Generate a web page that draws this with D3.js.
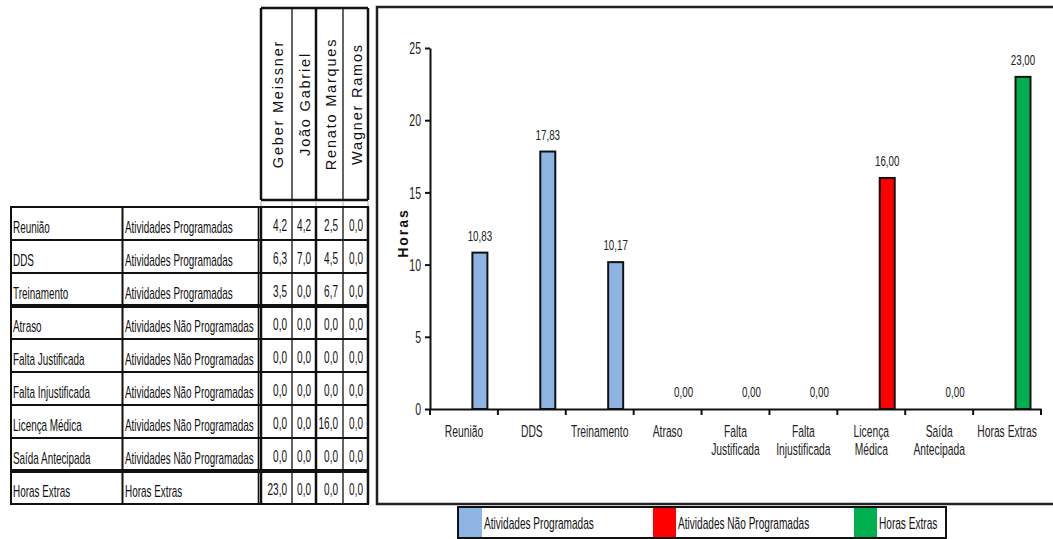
<!DOCTYPE html>
<html><head><meta charset="utf-8">
<script src="https://cdn.jsdelivr.net/npm/d3@7"></script>
<style>
body{margin:0;background:#fff;}
svg{display:block;font-family:"Liberation Sans",Arial,sans-serif;}
</style></head>
<body><svg id="c" width="1053" height="539"></svg>
<script>
// ---------- DATA ----------
const categories = ["Reunião","DDS","Treinamento","Atraso","Falta Justificada","Falta Injustificada","Licença Médica","Saída Antecipada","Horas Extras"];
const categoryLines = [["Reunião"],["DDS"],["Treinamento"],["Atraso"],["Falta","Justificada"],["Falta","Injustificada"],["Licença","Médica"],["Saída","Antecipada"],["Horas Extras"]];
const groups = ["Atividades Programadas","Atividades Programadas","Atividades Programadas","Atividades Não Programadas","Atividades Não Programadas","Atividades Não Programadas","Atividades Não Programadas","Atividades Não Programadas","Horas Extras"];
const people = ["Geber Meissner","João Gabriel","Renato Marques","Wagner Ramos"];
const geber  = [4.2, 6.3, 3.5, 0, 0, 0, 0, 0, 23.0];
const joao   = [4.2, 7.0, 0.0, 0, 0, 0, 0, 0, 0];
const renato = [2.5, 4.5, 6.7, 0, 0, 0, 16.0, 0, 0];
const wagner = [0, 0, 0, 0, 0, 0, 0, 0, 0];
const totals = [10.83, 17.83, 10.17, 0, 0, 0, 16.00, 0, 23.00];
const yTicks = [0, 5, 10, 15, 20, 25];
const legendNames = ["Atividades Programadas","Atividades Não Programadas","Horas Extras"];
const legendColors = ["#8DB4E2","#FF0000","#00B050"];

// ---------- HELPERS ----------
const svg = d3.select("#c");
// detect a narrow face
function measure(fam) {
  const t = svg.append("text").attr("font-family", fam).attr("font-size", 100).text("Atividades Programadas");
  const w = t.node().getComputedTextLength(); t.remove(); return w;
}
const wReg = measure("Liberation Sans");
const wNar = measure("Liberation Sans Narrow, Liberation Sans");
const narrow = wNar < wReg * 0.9;
const FAM = narrow ? "Liberation Sans Narrow" : "Liberation Sans";
const NF = narrow ? wNar / wReg : 1;
// W: px per Arial-em in width; size: font size (height)
const sxFor = (W, size) => W / (size * NF);

const comma = f => v => f(v).replace(".", ",");
function txt(parent, x, y, s, o = {}) {
  const size = o.size ?? 16;
  return parent.append("text")
    .attr("transform", `translate(${x},${y}) scale(${sxFor(o.W ?? 10, size)},1)`)
    .attr("font-family", FAM)
    .attr("font-size", size)
    .attr("text-anchor", o.anchor ?? "start")
    .attr("fill", o.fill ?? "#111")
    .text(s);
}
const colorOf = d3.scaleOrdinal().domain(legendNames).range(legendColors);

// ---------- TABLE ----------
const T = svg.append("g");
const rowTop = d3.scaleLinear().domain([0, 1]).range([207, 240]);
const colX = [261, 292, 316, 343, 368];
const colThick = [2.5, 1.3, 2.5, 1.3, 2.5];
const nRows = categories.length;

// header box
T.append("line").attr("x1", 261).attr("x2", 368).attr("y1", 8).attr("y2", 8).attr("stroke", "#111").attr("stroke-width", 2.5);
T.append("line").attr("x1", 261).attr("x2", 368).attr("y1", 200).attr("y2", 200).attr("stroke", "#111").attr("stroke-width", 2.5);
colX.forEach((x, i) => {
  T.append("line").attr("x1", x).attr("x2", x).attr("y1", 8).attr("y2", 200).attr("stroke", "#111").attr("stroke-width", colThick[i]);
  T.append("line").attr("x1", x).attr("x2", x).attr("y1", 201).attr("y2", 207).attr("stroke", "#aab").attr("stroke-width", 1);
});
people.forEach((p, i) => {
  const cx = (colX[i] + colX[i + 1]) / 2;
  T.append("text").attr("transform", `translate(${cx + 1},104) rotate(-90)`)
    .attr("text-anchor", "middle").attr("dominant-baseline", "central")
    .attr("font-size", 14.5).attr("letter-spacing", 1.8).attr("fill", "#111").text(p);
});

// rows
const series = [geber, joao, renato, wagner];
for (let r = 0; r < nRows; r++) {
  const y0 = rowTop(r);
  txt(T, 13, y0 + 26, categories[r], { W: 9.9, size: 16 });
  txt(T, 125, y0 + 26, groups[r], { W: 9.9, size: 16 });
  series.forEach((s, i) => {
    txt(T, colX[i + 1] - 5, y0 + 24, comma(d3.format(".1f"))(s[r]), { anchor: "end", W: 10, size: 16 });
  });
}
for (let r = 0; r <= nRows; r++) {
  const y = rowTop(r);
  const heavy = (r === 3 || r === 8);
  T.append("line").attr("x1", 10).attr("x2", 369).attr("y1", y).attr("y2", y)
    .attr("stroke", "#111").attr("stroke-width", heavy ? 4 : 2);
}
[[11, 2], [122.5, 2], [258.5, 1.6]].forEach(([x, w]) =>
  T.append("line").attr("x1", x).attr("x2", x).attr("y1", rowTop(0)).attr("y2", rowTop(nRows)).attr("stroke", "#111").attr("stroke-width", w));
colX.forEach((x, i) =>
  T.append("line").attr("x1", x).attr("x2", x).attr("y1", rowTop(0)).attr("y2", rowTop(nRows)).attr("stroke", "#111").attr("stroke-width", colThick[i]));

// ---------- CHART ----------
const C = svg.append("g");
C.append("rect").attr("x", 377).attr("y", 7).attr("width", 700).attr("height", 497)
  .attr("fill", "none").attr("stroke", "#222").attr("stroke-width", 2.5);

const x = d3.scaleBand().domain(categories).range([430, 1041]).padding(0);
const y = d3.scaleLinear().domain([0, 25]).range([409, 48]);
const barW = 15;
const barCx = c => x(c) + x.bandwidth() * 0.735;

// y axis
const tickSize = 16;
const tickSX = sxFor(10.5, tickSize);
const ya = C.append("g").attr("transform", "translate(430,0)")
  .call(d3.axisLeft(y).tickValues(yTicks).tickSize(5).tickSizeOuter(0).tickFormat(d3.format("d")));
ya.select(".domain").attr("stroke", "#111").attr("stroke-width", 2);
ya.selectAll(".tick line").attr("stroke", "#111").attr("stroke-width", 2);
ya.selectAll(".tick text").attr("font-size", tickSize).attr("fill", "#222")
  .attr("font-family", FAM)
  .attr("x", -9 / tickSX).attr("dy", "0.36em").attr("transform", `scale(${tickSX},1)`);

// y title
C.append("text").attr("transform", "translate(403,233) rotate(-90)")
  .attr("text-anchor", "middle").attr("dominant-baseline", "central")
  .attr("font-size", 14).attr("font-weight", "bold").attr("letter-spacing", 2).attr("fill", "#111").text("Horas");

// bars
C.selectAll("rect.bar").data(categories).join("rect").attr("class", "bar")
  .attr("x", c => barCx(c) - barW / 2)
  .attr("width", barW)
  .attr("y", (c, i) => y(totals[i]))
  .attr("height", (c, i) => y(0) - y(totals[i]))
  .attr("fill", (c, i) => colorOf(groups[i]))
  .attr("stroke", "#111").attr("stroke-width", 2);

// x axis
const xa = C.append("g").attr("transform", "translate(0,409)")
  .call(d3.axisBottom(x).tickSize(0).tickSizeOuter(0).tickFormat(""));
xa.select(".domain").attr("stroke", "#111").attr("stroke-width", 2);
const bounds = categories.map(c => x(c)).concat([x(categories[categories.length - 1]) + x.bandwidth()]);
bounds.forEach(b => C.append("line").attr("x1", b).attr("x2", b).attr("y1", 409).attr("y2", 415).attr("stroke", "#111").attr("stroke-width", 2));

// category labels
categoryLines.forEach((lines, i) => {
  const cx = x(categories[i]) + x.bandwidth() / 2;
  lines.forEach((l, k) => txt(C, cx, 437 + k * 18, l, { anchor: "middle", size: 16.5, W: 10.3, fill: "#222" }));
});

// value labels
totals.forEach((v, i) => {
  txt(C, barCx(categories[i]), y(v) - 12, comma(d3.format(".2f"))(v), { anchor: "middle", size: 15.5, W: 9.8, fill: "#222" });
});

// ---------- LEGEND ----------
const L = svg.append("g");
L.append("rect").attr("x", 458).attr("y", 507).attr("width", 488).attr("height", 31)
  .attr("fill", "#fff").attr("stroke", "#111").attr("stroke-width", 2);
const legX = [458, 652, 853];
legendNames.forEach((n, i) => {
  L.append("rect").attr("x", legX[i] + 1).attr("y", 508).attr("width", 23).attr("height", 29).attr("fill", legendColors[i]);
  txt(L, legX[i] + 26, 529, n, { W: 10.1, size: 16 });
});
</script></body></html>
